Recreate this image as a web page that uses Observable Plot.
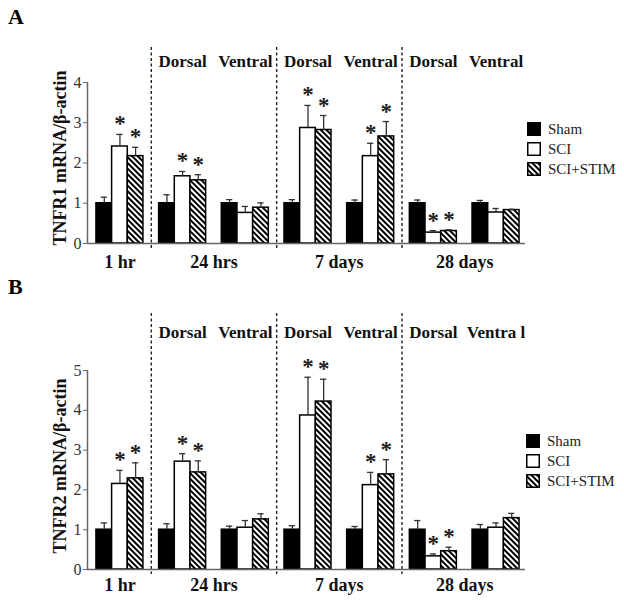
<!DOCTYPE html>
<html>
<head>
<meta charset="utf-8">
<script src="https://cdn.jsdelivr.net/npm/d3@7"></script>
<script src="https://cdn.jsdelivr.net/npm/@observablehq/plot@0.6"></script>
<style>
  body { margin: 0; background: white; font-family: 'Liberation Serif', 'Times New Roman', serif; }
  .panel { position: relative; width: 624px; }
  .letter { position: absolute; left: 8px; font-weight: bold; font-size: 22px; line-height: 1; }
  .legend { position: absolute; font-size: 15px; line-height: 20px; color: #222; }
  .legend .row { display: flex; align-items: center; height: 20px; }
  .legend svg { margin-right: 7px; }
</style>
</head>
<body>
<svg width="0" height="0" style="position:absolute">
  <defs>
    <pattern id="hatch" patternUnits="userSpaceOnUse" width="4" height="4" patternTransform="rotate(45)">
      <rect width="4" height="4" fill="white"></rect>
      <rect width="4" height="2" fill="black"></rect>
    </pattern>
  </defs>
</svg>
<div id="A" class="panel"><div class="letter" style="top:6px">A</div></div>
<div id="B" class="panel"><div class="letter" style="top:0px">B</div></div>
<script>
// ---- data ----
const groups = ["1 hr", "24 hrs Dorsal", "24 hrs Ventral", "7 days Dorsal", "7 days Ventral", "28 days Dorsal", "28 days Ventral"];
const seriesNames = ["Sham", "SCI", "SCI+STIM"];
const seriesFills = ["black", "white", "url(#hatch)"];
const regionLabelsA = ["", "Dorsal", "Ventral", "Dorsal", "Ventral", "Dorsal", "Ventral"];
const regionLabelsB = ["", "Dorsal", "Ventral", "Dorsal", "Ventral", "Dorsal", "Ventra l"];
const timeLabels = ["1 hr", "24 hrs", "7 days", "28 days"];
const timeGroupStart = [0, 1, 3, 5];
const timeGroupEnd = [0, 2, 4, 6];
const separatorsAfterGroup = [0, 2, 4];

// TNFR1 (panel A)
const tnfr1Sham = [1.0, 1.0, 1.0, 1.0, 1.0, 1.0, 1.0];
const tnfr1SCI = [2.41, 1.67, 0.76, 2.87, 2.17, 0.27, 0.77];
const tnfr1Stim = [2.17, 1.57, 0.89, 2.82, 2.66, 0.31, 0.83];
const tnfr1ShamSem = [0.15, 0.21, 0.09, 0.09, 0.08, 0.08, 0.07];
const tnfr1SCISem = [0.30, 0.12, 0.16, 0.56, 0.32, 0.05, 0.10];
const tnfr1StimSem = [0.22, 0.14, 0.12, 0.36, 0.37, 0.03, 0.02];
const tnfr1SCIStar = [1, 1, 0, 1, 1, 1, 0];
const tnfr1StimStar = [1, 1, 0, 1, 1, 1, 0];

// TNFR2 (panel B)
const tnfr2Sham = [1.0, 1.0, 1.0, 1.0, 1.0, 1.0, 1.0];
const tnfr2SCI = [2.15, 2.71, 1.05, 3.87, 2.12, 0.33, 1.05];
const tnfr2Stim = [2.29, 2.44, 1.26, 4.22, 2.39, 0.46, 1.29];
const tnfr2ShamSem = [0.17, 0.15, 0.09, 0.10, 0.08, 0.23, 0.13];
const tnfr2SCISem = [0.34, 0.20, 0.18, 0.96, 0.32, 0.06, 0.12];
const tnfr2StimSem = [0.39, 0.29, 0.14, 0.56, 0.37, 0.10, 0.12];
const tnfr2SCIStar = [1, 1, 0, 1, 1, 1, 0];
const tnfr2StimStar = [1, 1, 0, 1, 1, 1, 0];

// ---- layout helpers ----
const slots = 4; // 3 bars + 1 gap per group
const serif = "'Liberation Serif', 'Times New Roman', serif";

function panel(el, cfg) {
  const means = [cfg.sham, cfg.sci, cfg.stim];
  const sems = [cfg.shamSem, cfg.sciSem, cfg.stimSem];
  const stars = [groups.map(() => 0), cfg.sciStar, cfg.stimStar];
  const rows = [];
  groups.forEach((g, gi) => {
    seriesNames.forEach((s, si) => {
      const x1 = gi * slots + si;
      rows.push({group: g, series: s, si, x1, x2: x1 + 1, xc: x1 + 0.5,
                 mean: means[si][gi], top: means[si][gi] + sems[si][gi], star: stars[si][gi]});
    });
  });
  const headers = cfg.regions.map((t, gi) => ({t, x: gi * slots + 1.5})).filter(d => d.t);
  const times = timeLabels.map((t, i) => ({t, x: (timeGroupStart[i] * slots + timeGroupEnd[i] * slots + 3) / 2}));
  const seps = separatorsAfterGroup.map(gi => (gi + 1) * slots - 0.5);

  const chart = Plot.plot({
    width: 624, height: cfg.height,
    marginLeft: 87, marginRight: 99, marginTop: cfg.marginTop, marginBottom: cfg.marginBottom,
    x: {domain: [-0.57, 27.38], axis: null},
    y: {domain: [0, cfg.yMax], axis: null},
    style: {fontFamily: serif, background: "white", overflow: "visible"},
    marks: [
      Plot.ruleX(seps, {x: d => d, stroke: "#222", strokeWidth: 1.4, strokeDasharray: "3,2.5",
                        insetTop: -cfg.sepTop, insetBottom: -5}),
      ...seriesNames.map((s, si) =>
        Plot.rectY(rows.filter(d => d.si === si), {x1: "x1", x2: "x2", y1: 0, y2: "mean",
          fill: seriesFills[si], stroke: "black", strokeWidth: 1.5})),
      Plot.ruleX(rows, {x: "xc", y1: "mean", y2: "top", stroke: "#333", strokeWidth: 1.3}),
      Plot.ruleY(rows, {y: "top", x1: d => d.xc - 0.2, x2: d => d.xc + 0.2, stroke: "#333", strokeWidth: 1.3}),
      Plot.text(rows.filter(d => d.star), {x: "xc", y: "top", text: () => "*", lineAnchor: "bottom",
        dy: -3, fontSize: 23, fontWeight: "bold", fill: "#222", fontFamily: serif}),
      Plot.ruleY([0], {stroke: "#666", strokeWidth: 1.5}),
      Plot.ruleX([-0.57], {y1: 0, y2: cfg.yMax, stroke: "#666", strokeWidth: 1.5}),
      Plot.axisY({ticks: d3.range(0, cfg.yMax + 1), tickSize: 4, tickPadding: 2, fontSize: 16,
        fill: "#333", stroke: "#666", label: null, tickFormat: d3.format("d"), fontFamily: serif}),
      Plot.text([cfg.yLabel], {frameAnchor: "left", textAnchor: "middle", lineAnchor: "middle",
        rotate: -90, dx: -27, dy: cfg.yLabelDy,
        fontSize: 18, fontWeight: "bold", fill: "#111", fontFamily: serif}),
      Plot.text(headers, {x: "x", text: "t", frameAnchor: "top", lineAnchor: "middle", dy: cfg.headerDy,
        fontSize: 17, fontWeight: "bold", fill: "#111", fontFamily: serif}),
      Plot.text(times, {x: "x", text: "t", y: 0, lineAnchor: "middle", dy: cfg.timeDy,
        fontSize: 18, fontWeight: "bold", fill: "#111", fontFamily: serif})
    ]
  });
  el.appendChild(chart);

  const legend = document.createElement("div");
  legend.className = "legend";
  legend.style.left = cfg.legendLeft + "px";
  legend.style.top = cfg.legendTop + "px";
  seriesNames.forEach((s, si) => {
    const row = document.createElement("div");
    row.className = "row";
    row.innerHTML = `<svg width="14" height="14"><rect x="0.75" y="0.75" width="12.5" height="12.5" fill="${seriesFills[si]}" stroke="black" stroke-width="1.5"></rect></svg><span>${s}</span>`;
    legend.appendChild(row);
  });
  el.appendChild(legend);
}

panel(document.getElementById("A"), {
  sham: tnfr1Sham, sci: tnfr1SCI, stim: tnfr1Stim,
  shamSem: tnfr1ShamSem, sciSem: tnfr1SCISem, stimSem: tnfr1StimSem,
  sciStar: tnfr1SCIStar, stimStar: tnfr1StimStar, regions: regionLabelsA,
  yMax: 4, yLabel: "TNFR1 mRNA/β-actin",
  height: 276, marginTop: 82, marginBottom: 33,
  sepTop: 35, headerDy: -21, timeDy: 19, yLabelDy: -5,
  legendLeft: 527, legendTop: 119
});
panel(document.getElementById("B"), {
  sham: tnfr2Sham, sci: tnfr2SCI, stim: tnfr2Stim,
  shamSem: tnfr2ShamSem, sciSem: tnfr2SCISem, stimSem: tnfr2StimSem,
  sciStar: tnfr2SCIStar, stimStar: tnfr2StimStar, regions: regionLabelsB,
  yMax: 5, yLabel: "TNFR2 mRNA/β-actin",
  height: 325, marginTop: 94, marginBottom: 32,
  sepTop: 57, headerDy: -38, timeDy: 16, yLabelDy: -4,
  legendLeft: 526, legendTop: 155
});
</script>
</body>
</html>
